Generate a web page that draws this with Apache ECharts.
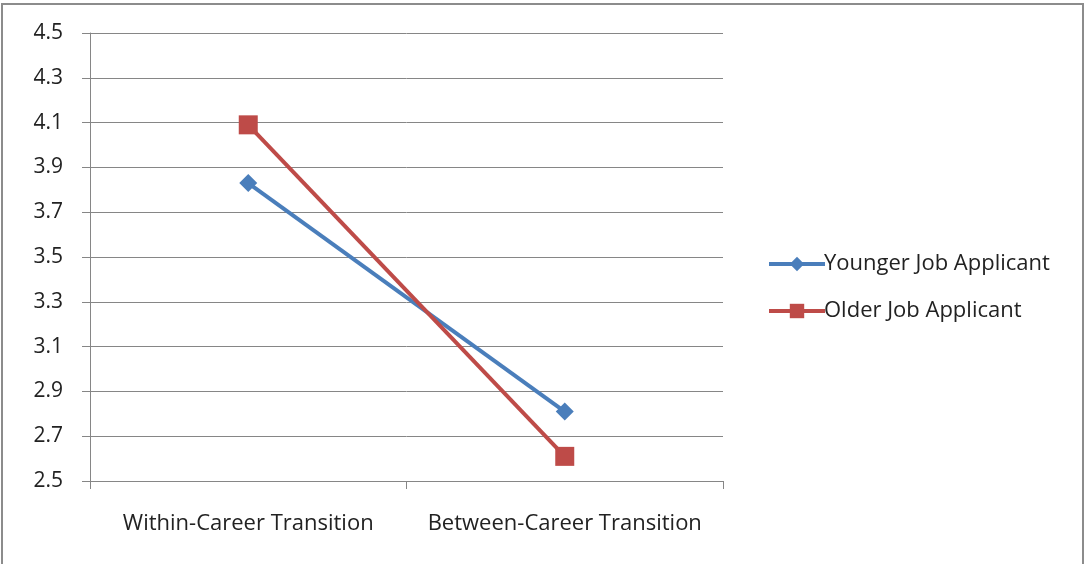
<!DOCTYPE html>
<html>
<head>
<meta charset="utf-8">
<script src="https://cdn.jsdelivr.net/npm/echarts@6/dist/echarts.min.js"></script>
<style>
  html, body { margin: 0; padding: 0; background: #fff; }
  #frame { position: absolute; left: 1px; top: 3px; width: 1083px; height: 600px; border: 2px solid #8c8c8c; box-sizing: border-box; }
  #chart { position: absolute; left: 0; top: 0; width: 1089px; height: 564px; }
</style>
</head>
<body>
<div id="frame"></div>
<div id="chart"></div>
<script>
// Transition type on the x axis
const categories = ['Within-Career Transition', 'Between-Career Transition'];
// Mean ratings for each applicant group
const younger = [3.83, 2.81];
const older = [4.09, 2.61];
const seriesNames = ['Younger Job Applicant', 'Older Job Applicant'];

const FONT = '"Open Sans"';
const chart = echarts.init(document.getElementById('chart'), null, { renderer: 'canvas' });
chart.setOption({
  animation: false,
  backgroundColor: 'transparent',
  grid: { left: 90, right: 366, top: 33, bottom: 83, containLabel: false },
  legend: {
    orient: 'vertical',
    left: 762,
    top: 248,
    itemWidth: 56,
    itemHeight: 18,
    itemGap: 25,
    lineStyle: { width: 4 },
    textStyle: { fontFamily: FONT, fontSize: 22, color: '#222', padding: [0, 0, 0, -6] },
    data: seriesNames
  },
  xAxis: {
    type: 'category',
    data: categories,
    boundaryGap: true,
    axisLine: { lineStyle: { color: '#868686', width: 1 } },
    axisTick: { show: true, length: 8, lineStyle: { color: '#868686' } },
    axisLabel: { interval: 0, fontFamily: FONT, fontSize: 22, color: '#222', margin: 32 },
    splitLine: { show: false }
  },
  yAxis: {
    type: 'value',
    min: 2.5,
    max: 4.5,
    interval: 0.2,
    axisLine: { show: true, lineStyle: { color: '#868686', width: 1 } },
    axisTick: { show: true, length: 8, lineStyle: { color: '#868686' } },
    axisLabel: { fontFamily: FONT, fontSize: 21, color: '#222', margin: 27,
      formatter: v => v.toFixed(1) },
    splitLine: { lineStyle: { color: '#868686', width: 1 } }
  },
  series: [
    {
      name: seriesNames[0],
      type: 'line',
      data: younger,
      symbol: 'diamond',
      symbolSize: 18,
      lineStyle: { color: '#4A7EBB', width: 4 },
      itemStyle: { color: '#4A7EBB' }
    },
    {
      name: seriesNames[1],
      type: 'line',
      data: older,
      symbol: 'rect',
      symbolSize: 19,
      lineStyle: { color: '#BE4B48', width: 4 },
      itemStyle: { color: '#BE4B48' }
    }
  ]
});
</script>
</body>
</html>
